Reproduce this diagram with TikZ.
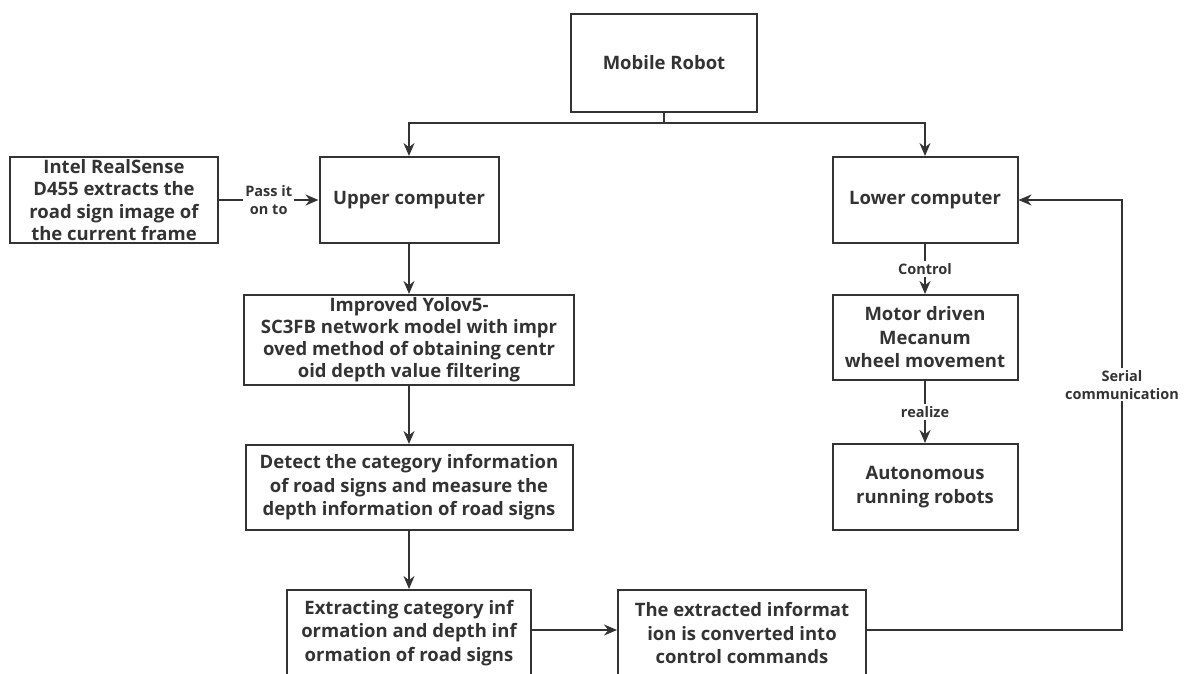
\documentclass[tikz,border=0pt]{standalone}
\usepackage{fontspec}
\setmainfont{Open Sans}
\usetikzlibrary{arrows.meta}
\definecolor{ink}{HTML}{333333}
\tikzset{
  box/.style={draw=ink,line width=2pt,align=center,inner sep=0pt,text=ink,
    font=\fontsize{18.5}{23.5}\selectfont\bfseries},
  lbl/.style={fill=white,align=center,inner sep=2pt,text=ink,
    font=\fontsize{14.5}{18}\selectfont\bfseries},
  arr/.style={draw=ink,line width=2pt,-{Stealth[length=13pt,width=11pt]}}
}
\begin{document}
\begin{tikzpicture}[x=1pt,y=-1pt]
			\useasboundingbox (0,0) rectangle (1190,673);
			\node[box,minimum width=186,minimum height=98] (robot) at (664,63) {Mobile Robot};
			\node[box,minimum width=179,minimum height=86] (upper) at (409,200) {Upper computer};
			\node[box,minimum width=208,minimum height=86,font=\fontsize{18.5}{22.5}\selectfont\bfseries] (camera) at (114,200) {Intel RealSense\\D455 extracts the\\road sign image of\\the current frame};
			\node[box,minimum width=185,minimum height=86] (lower) at (925,200) {Lower computer};
			\node[box,minimum width=185,minimum height=85] (motor) at (925,337.5) {Motor driven\\Mecanum\\wheel movement};
			\node[box,minimum width=185,minimum height=86] (auto) at (925,487) {Autonomous\\running robots};
			\node[box,minimum width=330,minimum height=90,font=\fontsize{18.5}{22}\selectfont\bfseries] (yolo) at (409,340) {Improved Yolov5-\\SC3FB network model with impr\\oved method of obtaining centr\\oid depth value filtering};
			\node[box,minimum width=327,minimum height=85] (detect) at (409,487.5) {Detect the category information\\of road signs and measure the\\depth information of road signs};
			\node[box,minimum width=244,minimum height=86] (extract) at (409,633) {Extracting category inf\\ormation and depth inf\\ormation of road signs};
			\node[box,minimum width=248,minimum height=86] (convert) at (742,633) {The extracted informat\\ion is converted into\\control commands};
			\coordinate (split) at (664,123);
			\coordinate (turn) at (1122,630);
			\draw[draw=ink,line width=2pt] (robot.south) -- (split);
			\draw[arr] (split) -| (upper.north);
			\draw[arr] (split) -| (lower.north);
			\draw[arr] (camera.east) -- node[lbl]{Pass it\\on to} (upper.west);
			\draw[arr] (upper.south) -- (yolo.north);
			\draw[arr] (yolo.south) -- (detect.north);
			\draw[arr] (detect.south) -- (extract.north);
			\draw[arr] (extract.east |- turn) -- (convert.west |- turn);
			\draw[arr] (lower.south) -- node[lbl]{Control} (motor.north);
			\draw[arr] (motor.south) -- node[lbl]{realize} (auto.north);
			\draw[arr] (convert.east |- turn) -- (turn) -- node[lbl,pos=0.57]{Serial\\communication} (turn |- lower.east) -- (lower.east);
\end{tikzpicture}
\end{document}
